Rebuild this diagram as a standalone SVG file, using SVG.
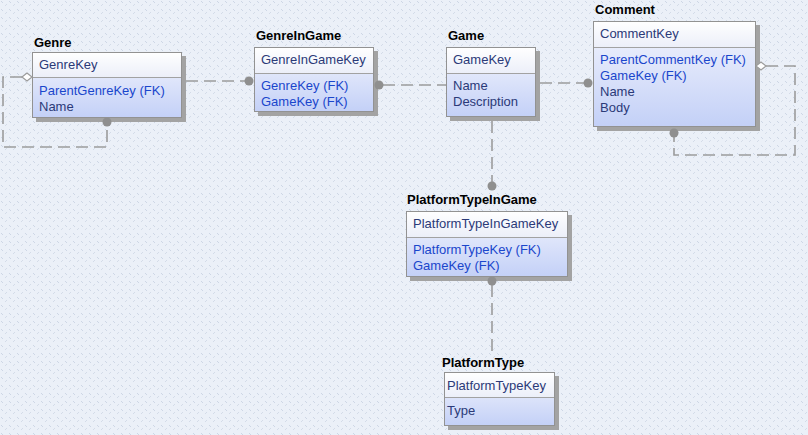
<svg xmlns="http://www.w3.org/2000/svg" width="808" height="435" viewBox="0 0 808 435">
<defs>
<pattern id="bgp" width="8" height="8" patternUnits="userSpaceOnUse">
<rect width="8" height="8" fill="#ebf0f8"/>
<rect x="1" y="1" width="1" height="1" fill="#cdd6e5"/>
<rect x="2" y="2" width="1" height="1" fill="#cdd6e5"/>
<rect x="5" y="5" width="1" height="1" fill="#d3dbe8"/>
<rect x="6" y="4" width="1" height="1" fill="#d3dbe8"/>
</pattern>
<linearGradient id="hg" x1="0" y1="0" x2="0" y2="1">
<stop offset="0" stop-color="#ffffff"/>
<stop offset="1" stop-color="#eceff9"/>
</linearGradient>
<linearGradient id="bg" x1="0" y1="0" x2="0" y2="1">
<stop offset="0" stop-color="#f3f5fd"/>
<stop offset="1" stop-color="#c3d0f7"/>
</linearGradient>
</defs>
<style>
.shadow{fill:#a3a3a3}
.body{fill:url(#bg)}
.head{fill:url(#hg)}
.border{fill:none;stroke:#929292;stroke-width:1}
.sep{stroke:#a2a2a2;stroke-width:1}
.title{font-family:"Liberation Sans",Arial,sans-serif;font-size:13px;font-weight:bold;fill:#000}
.key{font-family:"Liberation Sans",Arial,sans-serif;font-size:13px;fill:#2b3a78}
.fk{font-family:"Liberation Sans",Arial,sans-serif;font-size:13px;fill:#1a46cc}
.att{font-family:"Liberation Sans",Arial,sans-serif;font-size:13px;fill:#2b3a78}
.rel{fill:none;stroke:#9c9c9c;stroke-width:1.6;stroke-dasharray:12 6}
.dot{fill:#8f8f8f}
.dia{fill:#ffffff;stroke:#9c9c9c;stroke-width:1.2}
</style>
<rect width="808" height="435" fill="url(#bgp)"/>

<g id="Genre">
<text class="title" x="34" y="47">Genre</text>
<rect class="shadow" x="36" y="56" width="150" height="66"/>
<rect class="body" x="32" y="52" width="150" height="66"/>
<rect class="head" x="32" y="52" width="150" height="25"/>
<line class="sep" x1="32" y1="77.5" x2="182" y2="77.5"/>
<rect class="border" x="32.5" y="52.5" width="149" height="65"/>
<text class="key" x="39" y="69">GenreKey</text>
<text class="fk" x="39" y="95">ParentGenreKey (FK)</text>
<text class="att" x="39" y="111">Name</text>
</g>

<g id="GenreInGame">
<text class="title" x="256" y="40">GenreInGame</text>
<rect class="shadow" x="258" y="51" width="120" height="65"/>
<rect class="body" x="254" y="47" width="120" height="65"/>
<rect class="head" x="254" y="47" width="120" height="26"/>
<line class="sep" x1="254" y1="73.5" x2="374" y2="73.5"/>
<rect class="border" x="254.5" y="47.5" width="119" height="64"/>
<text class="key" x="261" y="64">GenreInGameKey</text>
<text class="fk" x="261" y="90">GenreKey (FK)</text>
<text class="fk" x="261" y="106">GameKey (FK)</text>
</g>

<g id="Game">
<text class="title" x="448" y="40">Game</text>
<rect class="shadow" x="450" y="51" width="90" height="70"/>
<rect class="body" x="446" y="47" width="90" height="70"/>
<rect class="head" x="446" y="47" width="90" height="26"/>
<line class="sep" x1="446" y1="73.5" x2="536" y2="73.5"/>
<rect class="border" x="446.5" y="47.5" width="89" height="69"/>
<text class="key" x="453" y="64">GameKey</text>
<text class="att" x="453" y="90">Name</text>
<text class="att" x="453" y="106">Description</text>
</g>

<g id="Comment">
<text class="title" x="595" y="14">Comment</text>
<rect class="shadow" x="597" y="25" width="163" height="106"/>
<rect class="body" x="593" y="21" width="163" height="106"/>
<rect class="head" x="593" y="21" width="163" height="26"/>
<line class="sep" x1="593" y1="47.5" x2="756" y2="47.5"/>
<rect class="border" x="593.5" y="21.5" width="162" height="105"/>
<text class="key" x="600" y="38">CommentKey</text>
<text class="fk" x="600" y="64">ParentCommentKey (FK)</text>
<text class="fk" x="600" y="80">GameKey (FK)</text>
<text class="att" x="600" y="96">Name</text>
<text class="att" x="600" y="112">Body</text>
</g>

<g id="PlatformTypeInGame">
<text class="title" x="407" y="204">PlatformTypeInGame</text>
<rect class="shadow" x="410" y="215" width="162" height="66"/>
<rect class="body" x="406" y="211" width="162" height="66"/>
<rect class="head" x="406" y="211" width="162" height="26"/>
<line class="sep" x1="406" y1="237.5" x2="568" y2="237.5"/>
<rect class="border" x="406.5" y="211.5" width="161" height="65"/>
<text class="key" x="413" y="228">PlatformTypeInGameKey</text>
<text class="fk" x="413" y="254">PlatformTypeKey (FK)</text>
<text class="fk" x="413" y="270">GameKey (FK)</text>
</g>

<g id="PlatformType">
<text class="title" x="442" y="367">PlatformType</text>
<rect class="shadow" x="448" y="376" width="111" height="54"/>
<rect class="body" x="444" y="372" width="111" height="54"/>
<rect class="head" x="444" y="372" width="111" height="25"/>
<line class="sep" x1="444" y1="397.5" x2="555" y2="397.5"/>
<rect class="border" x="444.5" y="372.5" width="110" height="53"/>
<text class="key" x="447" y="390">PlatformTypeKey</text>
<text class="att" x="447" y="415">Type</text>
</g>

<g id="connectors">
<path class="rel" d="M186 81 H245"/>
<circle class="dot" cx="249" cy="81" r="4.5"/>
<path class="rel" d="M383 85 H446"/>
<circle class="dot" cx="379" cy="85" r="4.5"/>
<path class="rel" d="M540 83 H584"/>
<circle class="dot" cx="588" cy="83" r="4.5"/>
<path class="rel" d="M492 121 V182"/>
<circle class="dot" cx="492" cy="186" r="4.5"/>
<path class="rel" d="M492 285 V353"/>
<circle class="dot" cx="492" cy="281" r="4.5"/>
<path class="rel" d="M22 77 H3 V147 H107 V126"/>
<polygon class="dia" points="22,77 27,73 32,77 27,81"/>
<circle class="dot" cx="107" cy="122" r="4.5"/>
<path class="rel" d="M766 66 H795 V155 H674 V137"/>
<polygon class="dia" points="756,66 761,62 766,66 761,70"/>
<circle class="dot" cx="674" cy="133" r="4.5"/>
</g>
</svg>
